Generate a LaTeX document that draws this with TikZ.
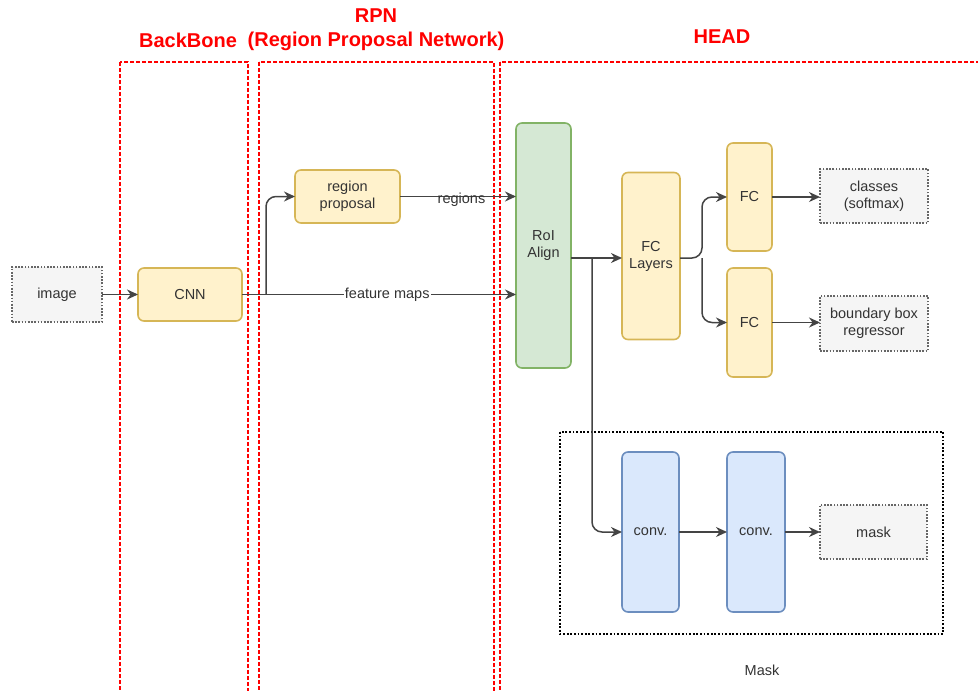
\documentclass[tikz,border=0pt]{standalone}
\usepackage{fontspec}
\setmainfont{Liberation Sans}
\usetikzlibrary{arrows.meta,positioning,calc}
\definecolor{sargaf}{HTML}{FFF2CC}
\definecolor{sargak}{HTML}{D6B656}
\definecolor{zoldf}{HTML}{D5E8D4}
\definecolor{zoldk}{HTML}{82B366}
\definecolor{kekf}{HTML}{DAE8FC}
\definecolor{kekk}{HTML}{6C8EBF}
\definecolor{szurkef}{HTML}{F5F5F5}
\definecolor{szurkek}{HTML}{666666}
\definecolor{vonal}{HTML}{444444}
\definecolor{szoveg}{HTML}{333333}
\tikzset{
  reteg/.style={draw,rounded corners=6pt,line width=1.6pt,inner sep=2pt,outer sep=0pt,align=center,text=szoveg},
  sarga/.style={reteg,fill=sargaf,draw=sargak},
  zold/.style={reteg,fill=zoldf,draw=zoldk},
  kek/.style={reteg,fill=kekf,draw=kekk},
  kimenet/.style={draw=szurkek,fill=szurkef,line width=1.6pt,dash pattern=on 1.6pt off 1.6pt,inner sep=2pt,
                  outer sep=0pt,align=center,text=szoveg},
  keret/.style={draw=red,line width=1.4pt,dash pattern=on 4pt off 2pt},
  maszkkeret/.style={draw=black,line width=1.8pt,dash pattern=on 1.8pt off 1.8pt},
  felirat/.style={text=red,font=\fontsize{20}{24}\selectfont\bfseries,align=center},
  nyil/.style={-{Stealth[length=11pt,width=10pt]},draw=vonal,line width=1.5pt},
  cimke/.style={fill=white,inner sep=1pt,text=szoveg},
}

\begin{document}
\begin{tikzpicture}[x=1pt,y=-1pt,font=\fontsize{14.5}{17}\selectfont]
  \useasboundingbox (0,0) rectangle (978,691);
  % piros keretek
  \draw[keret] (120,62) rectangle (248,700);
  \draw[keret] (259,62) rectangle (494,700);
  \draw[keret] (500,62) rectangle (990,700);
  \node[felirat] (bbl) at (188,40) {BackBone};
  \node[felirat] (rpnl) at (376,30) {RPN\\(Region Proposal Network)};
  \node[felirat] (headl) at (722,37) {HEAD};
  % maszk ag
  \draw[maszkkeret] (560,432) rectangle (943,634);
  \node[text=szoveg] (maszkl) at (762,670) {Mask};

  \node[kimenet,minimum width=90pt,minimum height=55pt] (img) at (57,294.5) {image};
  \node[sarga,minimum width=104pt,minimum height=53pt] (cnn) at (190,294.5) {CNN};
  \node[sarga,minimum width=105pt,minimum height=53pt] (rp) at (347.5,196.5) {region\\proposal};
  \node[zold,minimum width=55pt,minimum height=245pt] (roi) at (543.5,245.5) {RoI\\Align};
  \node[sarga,minimum width=58pt,minimum height=167pt] (fcl) at (651,256) {FC\\Layers};
  \node[sarga,minimum width=45pt,minimum height=108pt] (fc1) at (749.5,197) {FC};
  \node[sarga,minimum width=45pt,minimum height=109pt] (fc2) at (749.5,322.5) {FC};
  \node[kimenet,minimum width=108pt,minimum height=54pt] (cls) at (874,196) {classes\\(softmax)};
  \node[kimenet,minimum width=108pt,minimum height=55pt] (bbr) at (874,323.5) {boundary box\\regressor};
  \node[kek,minimum width=57pt,minimum height=160pt] (conv1) at (650.5,532) {conv.};
  \node[kek,minimum width=58pt,minimum height=160pt] (conv2) at (756,532) {conv.};
  \node[kimenet,minimum width=107pt,minimum height=54pt] (msk) at (873.5,532) {mask};

  \coordinate (ag1) at (266,294.5);
  \coordinate (ag2) at (592,258);
  \coordinate (ag3) at (702,258);

  \draw[nyil] (img) -- (cnn);
  \draw[nyil] (cnn.east) -- node[cimke,pos=0.53] {feature maps} (cnn.east -| roi.west);
  \draw[nyil,rounded corners=10pt] (ag1) |- (rp.west);
  \draw[nyil] (rp.east) -- node[cimke,pos=0.53,yshift=-3pt,fill=none] {regions} (rp.east -| roi.west);
  \draw[nyil] (roi.east |- ag2) -- (fcl.west |- ag2);
  \draw[nyil,rounded corners=10pt] (ag2) |- (conv1.west);
  \draw[nyil,rounded corners=10pt] (fcl.east |- ag3) -- (ag3) |- (fc1.west);
  \draw[nyil,rounded corners=10pt] (ag3) |- (fc2.west);
  \draw[nyil] (fc1.east) -- (fc1.east -| cls.west);
  \draw[nyil] (fc2.east) -- (fc2.east -| bbr.west);
  \draw[nyil] (conv1) -- (conv2);
  \draw[nyil] (conv2) -- (msk);
\end{tikzpicture}
\end{document}
